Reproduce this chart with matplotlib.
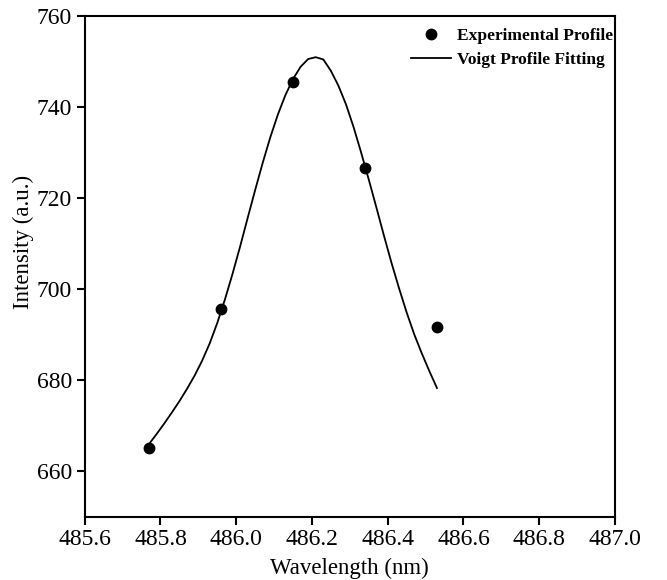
import matplotlib.pyplot as plt

# experimental points
wl_exp = [485.77, 485.96, 486.15, 486.34, 486.53]
int_exp = [665.1, 695.7, 745.6, 726.6, 691.7]

# Voigt fit curve
wl_fit = [485.77, 485.79, 485.81, 485.83, 485.85, 485.87, 485.89, 485.91, 485.93,
          485.95, 485.97, 485.99, 486.01, 486.03, 486.05, 486.07, 486.09, 486.11,
          486.13, 486.15, 486.17, 486.19, 486.21, 486.23, 486.25, 486.27, 486.29,
          486.31, 486.33, 486.35, 486.37, 486.39, 486.41, 486.43, 486.45, 486.47,
          486.49, 486.51, 486.53]
int_fit = [666.0, 668.2, 670.5, 672.9, 675.4, 678.1, 681.0, 684.3, 688.1,
           692.6, 697.7, 703.3, 709.3, 715.6, 721.8, 727.8, 733.4, 738.4,
           742.7, 746.2, 748.9, 750.6, 751.0, 750.5, 748.0, 744.7, 740.6,
           735.6, 730.0, 724.1, 718.0, 711.8, 705.8, 700.2, 694.9, 690.1,
           685.9, 682.0, 678.3]

xticks = [485.6, 485.8, 486.0, 486.2, 486.4, 486.6, 486.8, 487.0]
yticks = [660, 680, 700, 720, 740, 760]

plt.rcParams['font.family'] = ['Liberation Serif', 'DejaVu Serif']

fig = plt.figure(figsize=(6.67, 5.8), dpi=100)
ax = fig.add_axes([0.127, 0.109, 0.795, 0.863])

ax.plot(wl_exp, int_exp, 'o', color='black', markersize=7.5, label='Experimental Profile')
ax.plot(wl_fit, int_fit, '-', color='black', linewidth=1.3, label='Voigt Profile Fitting')

ax.set_xlim(485.6, 487.0)
ax.set_ylim(650, 760)
ax.set_xticks(xticks)
ax.set_xticklabels([f'{t:.1f}' for t in xticks])
ax.set_yticks(yticks)

for s in ax.spines.values():
    s.set_linewidth(1.5)
ax.tick_params(direction='out', length=6, width=1.5, labelsize=17, pad=3)

ax.set_xlabel('Wavelength (nm)', fontsize=16.5)
ax.set_ylabel('Intensity (a.u.)', fontsize=16.5)
ax.xaxis.set_label_coords(0.5, -0.082)
ax.yaxis.set_label_coords(-0.095, 0.55)

ax.legend(loc='upper right', bbox_to_anchor=(1.0, 0.98), frameon=False,
          prop={'weight': 'bold', 'size': 12.5}, borderpad=0.0, borderaxespad=0.1,
          handlelength=2.3, handletextpad=0.35, labelspacing=0.42)

plt.savefig('out.png', dpi=100)
